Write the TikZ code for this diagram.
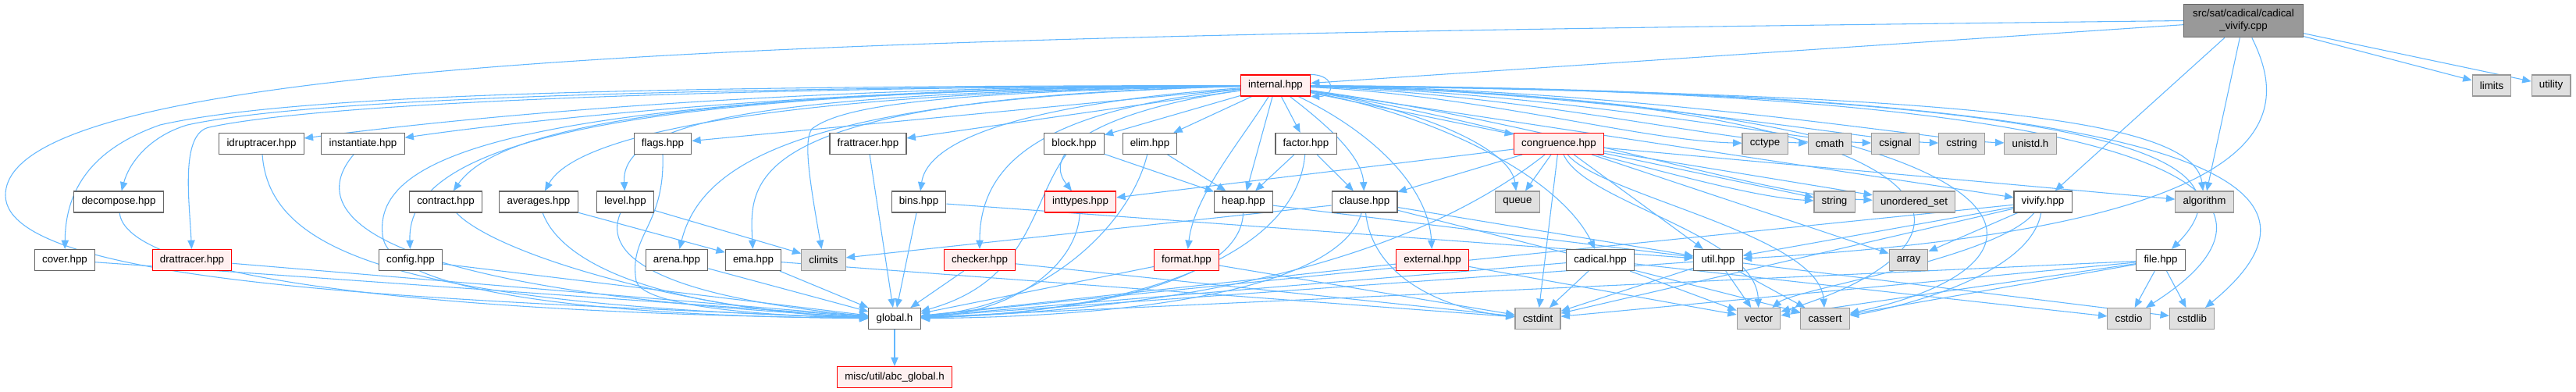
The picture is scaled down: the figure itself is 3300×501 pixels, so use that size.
\documentclass[tikz,border=0pt]{standalone}
\usepackage{fontspec}
\setmainfont{Liberation Sans}
\usetikzlibrary{arrows.meta}
\pgfdeclarelayer{background}
\pgfsetlayers{background,main}

\definecolor{edgeblue}{RGB}{99,184,255}
\definecolor{boxgray}{RGB}{102,102,102}
\definecolor{sysfill}{RGB}{224,224,224}
\definecolor{sysdraw}{RGB}{153,153,153}
\definecolor{redfill}{RGB}{255,240,240}
\definecolor{rootfill}{RGB}{153,153,153}

\tikzset{
  hfile/.style={draw=boxgray, fill=white, line width=0.8pt, rectangle, minimum height=20.25pt, inner xsep=7.3pt, inner ysep=1pt, font=\fontsize{10}{12}\selectfont},
  sysfile/.style={hfile, draw=sysdraw, fill=sysfill},
  redfile/.style={hfile, draw=red, fill=redfill},
  srcfile/.style={hfile, fill=rootfill, minimum width=115pt, minimum height=32pt, align=center},
  dep/.style={draw=edgeblue, line width=0.8pt, -{Triangle[length=8.5pt,width=7pt]}}
}

\begin{document}
\begin{tikzpicture}[x=0.75pt, y=0.75pt]
\useasboundingbox (0,0) rectangle (3300,-501);

\node[srcfile] (root) at (2874,-26.5) {src/sat/cadical/cadical\\\_vivify.cpp};
\node[redfile] (internal) at (1634,-109.5) {internal.hpp};
\node[sysfile] (limits) at (3192,-109.5) {limits};
\node[sysfile] (utility) at (3268,-109.5) {utility};

\node[hfile] (idruptracer) at (335,-184) {idruptracer.hpp};
\node[hfile] (instantiate) at (465,-184) {instantiate.hpp};
\node[hfile] (flags) at (849,-184) {flags.hpp};
\node[hfile] (frattracer) at (1112,-184) {frattracer.hpp};
\node[hfile] (block) at (1376,-184) {block.hpp};
\node[hfile] (elim) at (1473,-184) {elim.hpp};
\node[hfile] (factor) at (1673,-184) {factor.hpp};
\node[redfile] (congruence) at (1997,-184) {congruence.hpp};
\node[sysfile] (cctype) at (2261,-184) {cctype};
\node[sysfile] (cmath) at (2344,-184) {cmath};
\node[sysfile] (csignal) at (2428,-184) {csignal};
\node[sysfile] (cstring) at (2513,-184) {cstring};
\node[sysfile] (unistd) at (2601,-184) {unistd.h};

\node[hfile] (decompose) at (152,-258.5) {decompose.hpp};
\node[hfile] (contract) at (571,-258.5) {contract.hpp};
\node[hfile] (averages) at (690,-258.5) {averages.hpp};
\node[hfile] (level) at (801,-258.5) {level.hpp};
\node[hfile] (bins) at (1177,-258.5) {bins.hpp};
\node[redfile] (inttypes) at (1384,-258.5) {inttypes.hpp};
\node[hfile] (heap) at (1593,-258.5) {heap.hpp};
\node[hfile] (clause) at (1748,-258.5) {clause.hpp};
\node[sysfile] (queue) at (1944,-258.5) {queue};
\node[sysfile] (string) at (2350,-258.5) {string};
\node[sysfile] (unorderedset) at (2452,-258.5) {unordered\_set};
\node[hfile] (vivify) at (2617,-258.5) {vivify.hpp};
\node[sysfile] (algorithm) at (2824,-258.5) {algorithm};

\node[hfile] (cover) at (83,-333) {cover.hpp};
\node[redfile] (drattracer) at (246,-333) {drattracer.hpp};
\node[hfile] (config) at (526,-333) {config.hpp};
\node[hfile] (arena) at (867,-333) {arena.hpp};
\node[hfile] (ema) at (965,-333) {ema.hpp};
\node[sysfile] (climits) at (1055,-333) {climits};
\node[redfile] (checker) at (1255,-333) {checker.hpp};
\node[redfile] (format) at (1520,-333) {format.hpp};
\node[redfile] (external) at (1835,-333) {external.hpp};
\node[hfile] (cadical) at (2050,-333) {cadical.hpp};
\node[hfile] (util) at (2201,-333) {util.hpp};
\node[sysfile] (array) at (2445,-333) {array};
\node[hfile] (filehpp) at (2768,-333) {file.hpp};

\node[hfile] (global) at (1146,-408) {global.h};
\node[sysfile] (cstdint) at (1970,-408) {cstdint};
\node[sysfile] (vector) at (2253,-408) {vector};
\node[sysfile] (cassert) at (2338,-408) {cassert};
\node[sysfile] (cstdio) at (2727,-408) {cstdio};
\node[sysfile] (cstdlib) at (2808,-408) {cstdlib};

\node[redfile] (abcglobal) at (1146,-483) {misc/util/abc\_global.h};

\begin{pgfonlayer}{background}
\fill[white] (0,0) rectangle (3300,-501);
\draw[dep] (root) -- (internal);
\draw[dep] (root.west) .. controls (1200,-45) and (7,-60) .. (7,-250) .. controls (7,-370) and (600,-385) .. (global.west);
\draw[dep] (root) -- (limits);
\draw[dep] (root) -- (utility);
\draw[dep] (root) -- (vivify);
\draw[dep] (root) -- (algorithm);
\draw[dep] (root) .. controls (2930,-140) and (2950,-290) .. (util);

\draw[dep] (internal.north east) .. controls +(32,0) and +(32,0) .. (internal.south east);
\draw[dep] (internal) .. controls (900,-112) and (400,-125) .. (240,-160) .. controls (190,-175) and (165,-210) .. (decompose);
\draw[dep] (internal) .. controls (850,-110) and (380,-120) .. (205,-160) .. controls (120,-190) and (84,-240) .. (cover);
\draw[dep] (internal) .. controls (950,-112) and (420,-130) .. (268,-163) .. controls (230,-171) and (243,-260) .. (drattracer);
\draw[dep] (internal) .. controls (1000,-110) and (600,-150) .. (idruptracer);
\draw[dep] (internal) .. controls (1100,-110) and (700,-150) .. (instantiate);
\draw[dep] (internal) .. controls (900,-115) and (640,-160) .. (contract);
\draw[dep] (internal) .. controls (800,-115) and (520,-180) .. (config);
\draw[dep] (internal) .. controls (1000,-118) and (740,-170) .. (averages);
\draw[dep] (internal) .. controls (1000,-118) and (795,-150) .. (level);
\draw[dep] (internal) -- (flags);
\draw[dep] (internal) .. controls (1050,-125) and (900,-200) .. (arena);
\draw[dep] (internal) .. controls (950,-125) and (960,-230) .. (ema);
\draw[dep] (internal) .. controls (1200,-118) and (1080,-135) .. (1040,-165) .. controls (1030,-180) and (1035,-220) .. (climits);
\draw[dep] (internal) -- (frattracer);
\draw[dep] (internal) .. controls (1350,-130) and (1190,-170) .. (bins);
\draw[dep] (internal) .. controls (1350,-140) and (1255,-200) .. (checker);
\draw[dep] (internal) -- (block);
\draw[dep] (internal) .. controls (1420,-140) and (1330,-190) .. (inttypes);
\draw[dep] (internal) -- (elim);
\draw[dep] (internal) -- (heap);
\draw[dep] (internal) .. controls (1590,-180) and (1530,-250) .. (format);
\draw[dep] (internal) -- (factor);
\draw[dep] (internal) .. controls (1700,-160) and (1745,-200) .. (clause);
\draw[dep] (internal) .. controls (1760,-170) and (1830,-240) .. (external);
\draw[dep] (internal) -- (congruence);
\draw[dep] (internal) .. controls (1820,-140) and (1935,-190) .. (queue);
\draw[dep] (internal) .. controls (1850,-150) and (2000,-230) .. (cadical);
\draw[dep] (internal) .. controls (1950,-160) and (2200,-250) .. (string);
\draw[dep] (internal) .. controls (2000,-160) and (2250,-250) .. (unorderedset);
\draw[dep] (internal) .. controls (1900,-122) and (2100,-180) .. (cctype);
\draw[dep] (internal) .. controls (1950,-120) and (2200,-180) .. (cmath);
\draw[dep] (internal) .. controls (2000,-118) and (2300,-180) .. (csignal);
\draw[dep] (internal) .. controls (2050,-116) and (2390,-180) .. (cstring);
\draw[dep] (internal) .. controls (2100,-114) and (2480,-180) .. (unistd);
\draw[dep] (internal) -- (vivify);
\draw[dep] (internal) .. controls (2500,-120) and (2810,-150) .. (algorithm);
\draw[dep] (internal) .. controls (2700,-118) and (2900,-200) .. (filehpp);
\draw[dep] (internal) .. controls (2900,-115) and (3000,-250) .. (cstdlib);
\draw[dep] (internal) .. controls (2850,-115) and (2960,-260) .. (cstdio);
\draw[dep] (internal) .. controls (2600,-130) and (2700,-330) .. (cassert);
\draw[dep] (internal) .. controls (2500,-125) and (2600,-300) .. (vector);
\draw[dep] (internal) .. controls (650,-118) and (480,-200) .. (490,-300) .. controls (495,-380) and (800,-405) .. (global);

\draw[dep] (decompose) .. controls (160,-350) and (500,-400) .. (global);
\draw[dep] (cover) -- (global);
\draw[dep] (drattracer) -- (global);
\draw[dep] (idruptracer) .. controls (345,-320) and (500,-390) .. (global);
\draw[dep] (instantiate) .. controls (400,-260) and (420,-370) .. (global);
\draw[dep] (contract) .. controls (640,-330) and (900,-400) .. (global);
\draw[dep] (config) -- (global);
\draw[dep] (averages) .. controls (720,-340) and (850,-395) .. (global);
\draw[dep] (averages) -- (ema);
\draw[dep] (level) .. controls (770,-330) and (850,-380) .. (global);
\draw[dep] (level) -- (climits);
\draw[dep] (flags.south) .. controls (852,-290) and (805,-300) .. (815,-360) .. controls (825,-395) and (1000,-405) .. (global);
\draw[dep] (arena) -- (global);
\draw[dep] (ema) -- (global);
\draw[dep] (ema) -- (cstdint);
\draw[dep] (frattracer) -- (global);
\draw[dep] (bins) -- (global);
\draw[dep] (bins) -- (util);
\draw[dep] (checker) -- (global);
\draw[dep] (checker) -- (cstdint);
\draw[dep] (block) -- (heap);
\draw[dep] (block) .. controls (1320,-260) and (1320,-360) .. (global);
\draw[dep] (inttypes) .. controls (1380,-340) and (1300,-400) .. (global);
\draw[dep] (elim) -- (heap);
\draw[dep] (elim) .. controls (1450,-280) and (1350,-390) .. (global);
\draw[dep] (heap) -- (util);
\draw[dep] (heap) .. controls (1590,-360) and (1400,-400) .. (global);
\draw[dep] (factor) -- (heap);
\draw[dep] (factor) -- (clause);
\draw[dep] (factor) .. controls (1660,-330) and (1450,-400) .. (global);
\draw[dep] (format) -- (global);
\draw[dep] (format) -- (cstdint);
\draw[dep] (clause) -- (climits);
\draw[dep] (clause) -- (util);
\draw[dep] (clause) .. controls (1720,-360) and (1500,-405) .. (global);
\draw[dep] (clause) .. controls (1760,-370) and (1880,-400) .. (cstdint);
\draw[dep] (clause) -- (cassert);
\draw[dep] (external) -- (global);
\draw[dep] (external) -- (vector);
\draw[dep] (congruence) -- (inttypes);
\draw[dep] (congruence) -- (clause);
\draw[dep] (congruence) -- (queue);
\draw[dep] (congruence) -- (string);
\draw[dep] (congruence) -- (unorderedset);
\draw[dep] (congruence) -- (array);
\draw[dep] (congruence) -- (util);
\draw[dep] (congruence) -- (algorithm);
\draw[dep] (congruence) .. controls (2030,-260) and (2250,-300) .. (vector);
\draw[dep] (congruence) .. controls (2050,-250) and (2330,-300) .. (cassert);
\draw[dep] (congruence) -- (cstdint);
\draw[dep] (congruence) .. controls (1900,-260) and (1700,-390) .. (global);
\draw[dep] (cadical) -- (global);
\draw[dep] (cadical) -- (cstdint);
\draw[dep] (cadical) -- (vector);
\draw[dep] (cadical) -- (cstdio);
\draw[dep] (util) -- (global);
\draw[dep] (util) -- (cstdint);
\draw[dep] (util) -- (vector);
\draw[dep] (util) -- (cassert);
\draw[dep] (util) -- (cstdlib);
\draw[dep] (vivify) -- (util);
\draw[dep] (vivify) -- (array);
\draw[dep] (vivify) .. controls (2560,-330) and (2300,-370) .. (vector);
\draw[dep] (vivify) .. controls (2600,-360) and (2400,-400) .. (cassert);
\draw[dep] (vivify) -- (cstdint);
\draw[dep] (vivify) -- (global);
\draw[dep] (filehpp) -- (global);
\draw[dep] (filehpp) -- (cstdint);
\draw[dep] (filehpp) -- (cassert);
\draw[dep] (filehpp) -- (vector);
\draw[dep] (filehpp) -- (cstdio);
\draw[dep] (filehpp) -- (cstdlib);
\draw[dep] (global) -- (abcglobal);
\end{pgfonlayer}

\end{tikzpicture}
\end{document}
